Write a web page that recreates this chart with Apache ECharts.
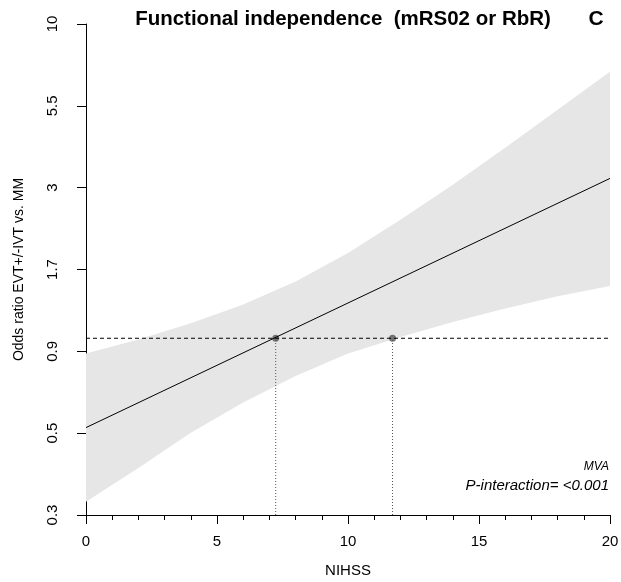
<!DOCTYPE html>
<html>
<head>
<meta charset="utf-8">
<script src="https://cdn.jsdelivr.net/npm/echarts@6/dist/echarts.min.js"></script>
<style>
    html, body { margin: 0; padding: 0; background: #fff; }
    #chart { width: 621px; height: 582px; }
</style>
</head>
<body>
<div id="chart"></div>
<script>
// values (odds ratios, log scale)
const nihss = [0, 2, 4, 6, 8, 10, 12, 14, 16, 18, 20];
const ciUpper = [0.95, 1.05, 1.18, 1.35, 1.59, 1.95, 2.47, 3.17, 4.13, 5.42, 7.11];
const ciLower = [0.33, 0.42, 0.54, 0.67, 0.81, 0.95, 1.07, 1.19, 1.31, 1.43, 1.54];
const estimateX = [0, 20];
const estimate = [0.56, 3.32];
const refOdds = 1.06;
const crossX = [7.24, 11.7];
const yTickLabels = ['0.3', '0.5', '0.9', '1.7', '3', '5.5', '10'];

const yMin = 0.3;
const yMax = 10;
const font = '"Liberation Sans", Arial, sans-serif';

// ticks are evenly spaced on a log scale, so map odds ratios to tick units
function toTick(or) {
    return Math.log(or / yMin) / Math.log(yMax / yMin) * (yTickLabels.length - 1);
}

const chart = echarts.init(document.getElementById('chart'));

const bandData = nihss.map((x, i) => [x, toTick(ciLower[i]), toTick(ciUpper[i])]);

const series = [
    {
        // confidence band drawn as one polygon
        type: 'custom',
        data: bandData,
        encode: { x: 0, y: [1, 2] },
        silent: true,
        renderItem: (params, api) => {
            if (params.dataIndex !== 0) return null;
            const top = bandData.map((d) => api.coord([d[0], d[2]]));
            const bottom = bandData.map((d) => api.coord([d[0], d[1]])).reverse();
            return {
                type: 'polygon',
                shape: { points: top.concat(bottom) },
                style: { fill: '#e6e6e6', stroke: null }
            };
        }
    },
    {
        type: 'line',
        data: [[0, toTick(refOdds)], [20, toTick(refOdds)]],
        symbol: 'none',
        lineStyle: { color: '#000', width: 1, type: [4, 3] },
        silent: true
    }
];

crossX.forEach((x) => {
    series.push({
        type: 'line',
        data: [[x, 0], [x, toTick(refOdds)]],
        symbol: 'none',
        lineStyle: { color: '#555', width: 1, type: [1, 2] },
        silent: true
    });
});

series.push({
    type: 'line',
    data: estimateX.map((x, i) => [x, toTick(estimate[i])]),
    symbol: 'none',
    lineStyle: { color: '#000', width: 1 },
    silent: true
});

series.push({
    type: 'scatter',
    data: crossX.map((x) => [x, toTick(refOdds)]),
    symbolSize: 7,
    itemStyle: { color: '#555' },
    silent: true
});

chart.setOption({
    animation: false,
    backgroundColor: '#fff',
    grid: { left: 86, right: 11, top: 24, bottom: 67, containLabel: false, outerBoundsMode: 'none' },
    xAxis: {
        type: 'value',
        min: 0,
        max: 20,
        interval: 5,
        name: 'NIHSS',
        nameLocation: 'middle',
        nameGap: 48,
        nameTextStyle: { color: '#000', fontSize: 15, fontFamily: font },
        axisLine: { show: true, lineStyle: { color: '#000', width: 1 } },
        axisTick: { show: true, length: 9, lineStyle: { color: '#000' } },
        minorTick: { show: true, splitNumber: 5, length: 5, lineStyle: { color: '#000' } },
        splitLine: { show: false },
        axisLabel: { color: '#000', fontSize: 15, fontFamily: font, margin: 19 }
    },
    yAxis: {
        type: 'value',
        min: 0,
        max: yTickLabels.length - 1,
        interval: 1,
        name: 'Odds ratio EVT+/-IVT vs. MM',
        nameLocation: 'middle',
        nameGap: 60,
        nameRotate: 90,
        nameTextStyle: { color: '#000', fontSize: 14, fontFamily: font },
        axisLine: { show: true, lineStyle: { color: '#000', width: 1 } },
        axisTick: { show: true, length: 9, lineStyle: { color: '#000' } },
        splitLine: { show: false },
        axisLabel: {
            color: '#000',
            fontSize: 15,
            fontFamily: font,
            rotate: 90,
            margin: 26,
            formatter: (v) => yTickLabels[Math.round(v)]
        }
    },
    graphic: [
        {
            type: 'text',
            x: 343,
            y: 19,
            style: {
                text: 'Functional independence  (mRS02 or RbR)',
                fill: '#000',
                font: 'bold 20.5px ' + font,
                align: 'center',
                verticalAlign: 'middle'
            }
        },
        {
            type: 'text',
            x: 596,
            y: 19,
            style: { text: 'C', fill: '#000', font: 'bold 21px ' + font, align: 'center', verticalAlign: 'middle' }
        },
        {
            type: 'text',
            x: 609,
            y: 467,
            style: { text: 'MVA', fill: '#000', font: 'italic 12px ' + font, align: 'right', verticalAlign: 'middle' }
        },
        {
            type: 'text',
            x: 609,
            y: 486,
            style: { text: 'P-interaction= <0.001', fill: '#000', font: 'italic 15px ' + font, align: 'right', verticalAlign: 'middle' }
        }
    ],
    series: series
});
</script>
</body>
</html>
